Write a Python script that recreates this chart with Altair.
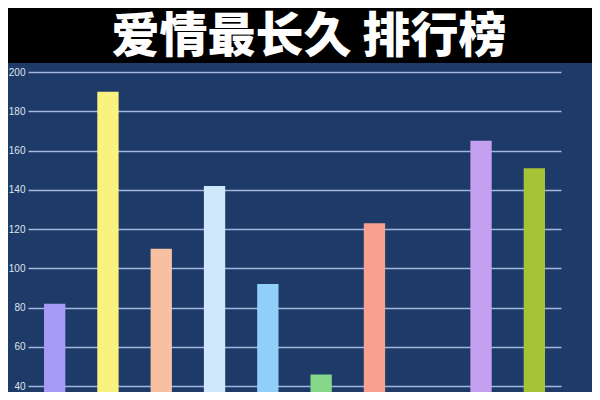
import altair as alt
import pandas as pd

title_text = "爱情最长久 排行榜"
categories = ["1", "2", "3", "4", "5", "6", "7", "8", "9", "10"]
values = [82, 190, 110, 142, 92, 46, 123, None, 165, 151]
colors = ["#a79bf5", "#f9f27f", "#f8c0a2", "#cfe8fb", "#90cff7", "#86d68a",
          "#f9a091", "#1d3a68", "#c6a0f0", "#a6c236"]
y_ticks = [40, 60, 80, 100, 120, 140, 160, 180, 200]

W, H = 533, 320
PAD = {"left": 20, "top": 64, "right": 31, "bottom": 0}

df = pd.DataFrame({"cat": categories, "val": values})

bars = alt.Chart(df).mark_bar(clip=True).encode(
    x=alt.X("cat:N", sort=categories,
            scale=alt.Scale(domain=categories, paddingInner=0.6, paddingOuter=0.3),
            axis=None),
    y=alt.Y("val:Q",
            scale=alt.Scale(domain=[37.07, 200], nice=False, zero=False),
            axis=alt.Axis(values=y_ticks, grid=True, gridColor="#a3b8dc",
                          gridWidth=1.5, domain=False, ticks=False,
                          labelColor="#dfe4ee", labelFontSize=10,
                          labelPadding=3, labelFont="Liberation Sans",
                          title=None)),
    color=alt.Color("cat:N", scale=alt.Scale(domain=categories, range=colors),
                    legend=None),
)

band = alt.Chart(pd.DataFrame({"a": [0]})).mark_rect(color="#000000").encode(
    x=alt.value(-PAD["left"] - 10), x2=alt.value(W + PAD["right"] + 10),
    y=alt.value(-PAD["top"] - 10), y2=alt.value(-9),
)

title = alt.Chart(pd.DataFrame({"t": [title_text]})).mark_text(
    font="Noto Sans CJK SC", fontSize=48, fontWeight=900, color="white",
    align="center", baseline="middle",
).encode(text="t:N", x=alt.value(281), y=alt.value(-34))

chart = alt.layer(band, bars, title).properties(
    width=W, height=H,
    background="#1d3a68",
    padding=PAD,
    autosize=alt.AutoSizeParams(type="none"),
).configure_view(stroke=None)

chart.save("out.html", embed_options={"renderer": "svg", "actions": False})
